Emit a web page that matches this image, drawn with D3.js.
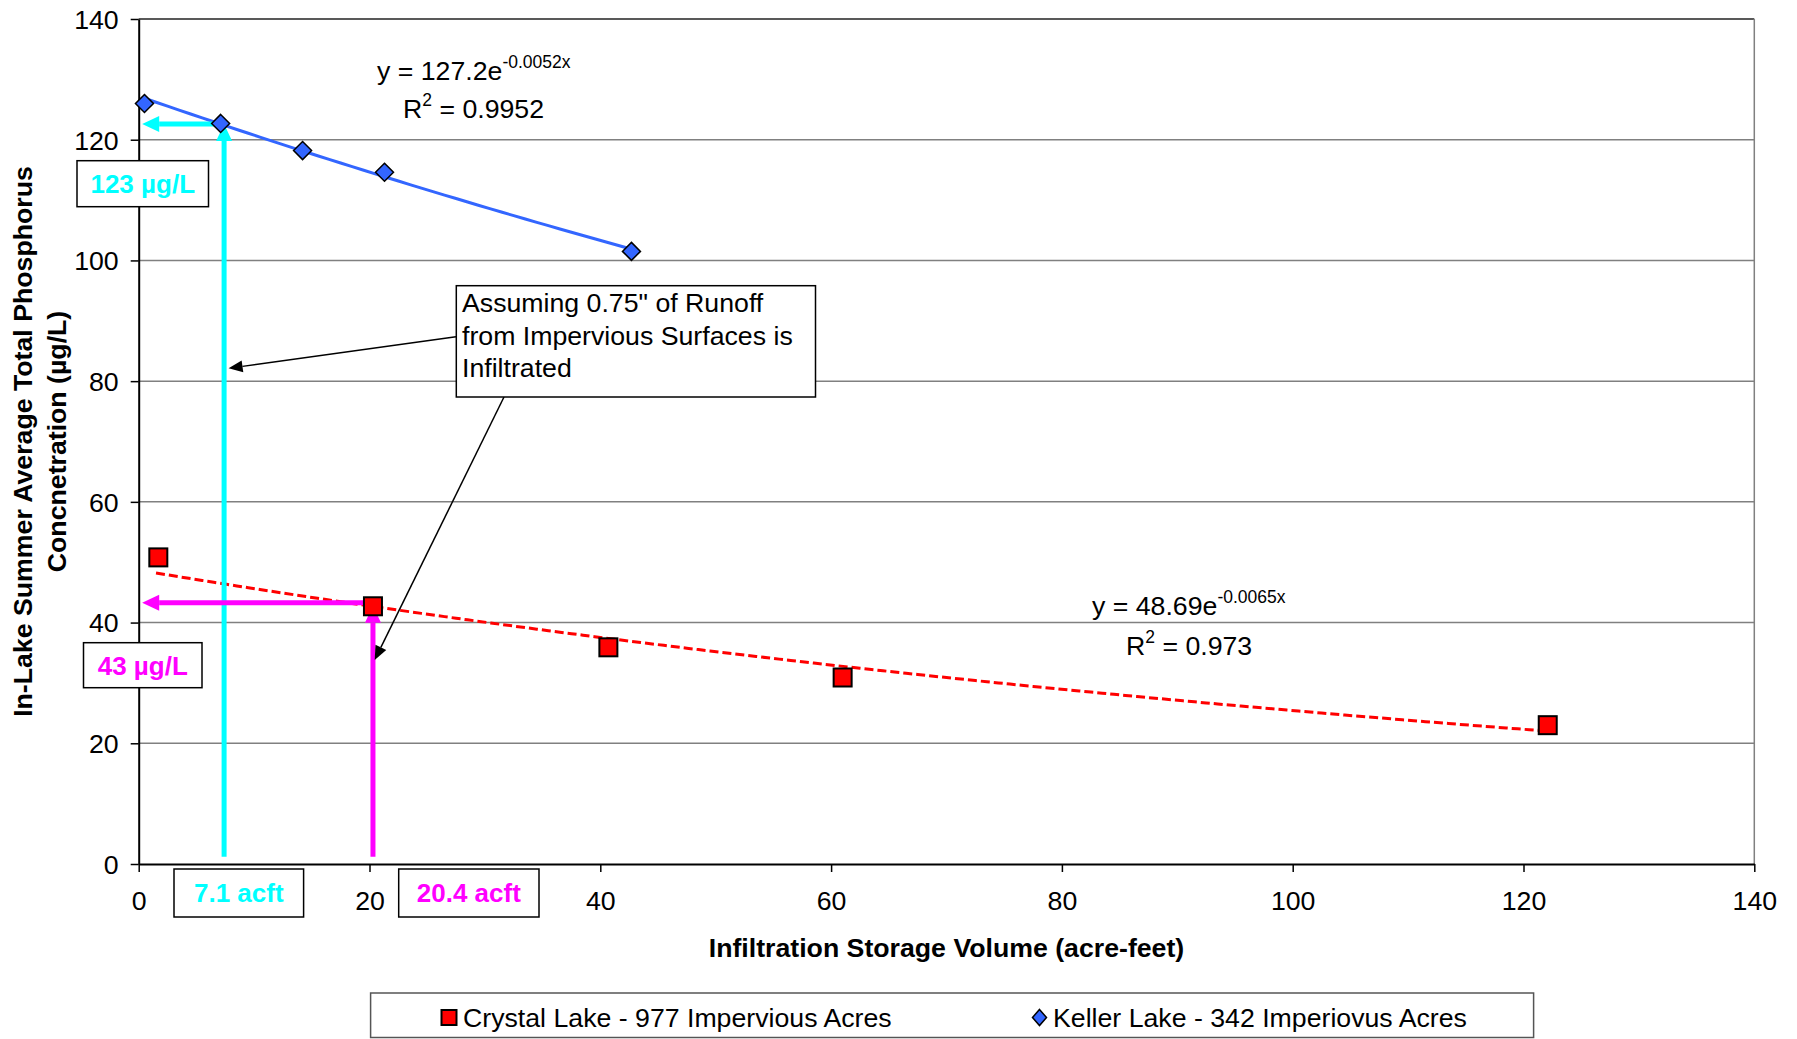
<!DOCTYPE html>
<html><head><meta charset="utf-8">
<script src="https://cdn.jsdelivr.net/npm/d3@7"></script>
<style>
body{margin:0;background:#fff;}
svg{display:block;font-family:"Liberation Sans",Arial,sans-serif;}
</style></head>
<body><svg id="c" width="1797" height="1039"></svg>
<script>
// ---- data ----
const xTicks = [0, 20, 40, 60, 80, 100, 120, 140];
const yTicks = [0, 20, 40, 60, 80, 100, 120, 140];
const crystalX = [1.7, 20.3, 40.7, 61.0, 122.1];
const crystalY = [50.8, 42.7, 35.9, 30.9, 23.0];
const kellerX = [0.5, 7.1, 14.2, 21.3, 42.7];
const kellerY = [126.0, 122.7, 118.2, 114.6, 101.5];
const crystalFit = [48.69, -0.0065];
const kellerFit = [127.2, -0.0052];
const seriesNames = ["Crystal Lake - 977 Impervious Acres", "Keller Lake - 342 Imperiovus Acres"];
const kellerLabel = "123 µg/L", kellerVol = "7.1 acft";
const crystalLabel = "43 µg/L", crystalVol = "20.4 acft";

const svg = d3.select("#c");
const L = 138.7, R = 1754.3, T = 19, B = 864;
const x = d3.scaleLinear().domain([0, 140]).range([L, R]);
const y = d3.scaleLinear().domain([0, 140]).range([B, T]);
const FONT = 26.7;

// gridlines
svg.append("g").selectAll("line").data(yTicks.filter(d => d > 0)).join("line")
  .attr("x1", L).attr("x2", R).attr("y1", d => y(d)).attr("y2", d => y(d))
  .attr("stroke", d => d === 140 ? "#222" : "#808080").attr("stroke-width", 1.5);
// right border
svg.append("line").attr("x1", R).attr("x2", R).attr("y1", T).attr("y2", B)
  .attr("stroke", "#808080").attr("stroke-width", 1.5);

// axes
const yAxis = svg.append("g").attr("transform", `translate(${L},0)`)
  .call(d3.axisLeft(y).tickValues(yTicks).tickSize(8).tickPadding(12).tickSizeOuter(0));
const xAxis = svg.append("g").attr("transform", `translate(0,${B})`)
  .call(d3.axisBottom(x).tickValues(xTicks).tickSize(8).tickPadding(19).tickSizeOuter(0));
[yAxis, xAxis].forEach(g => {
  g.select(".domain").attr("stroke", "#000").attr("stroke-width", 2);
  g.selectAll(".tick line").attr("stroke", "#000").attr("stroke-width", 1.5);
  g.selectAll(".tick text").attr("font-size", FONT).attr("fill", "#000")
    .attr("font-family", "'Liberation Sans',Arial,sans-serif");
});
yAxis.selectAll(".tick text").attr("dy", "0.35em");

// axis titles
svg.append("text").attr("x", (L + R) / 2).attr("y", 957).attr("text-anchor", "middle")
  .attr("font-size", FONT).attr("font-weight", "bold").text("Infiltration Storage Volume (acre-feet)");
const yt = svg.append("text").attr("transform", `translate(32,${(T + B) / 2}) rotate(-90)`)
  .attr("text-anchor", "middle").attr("font-size", FONT).attr("font-weight", "bold");
yt.append("tspan").attr("x", 0).attr("y", 0).text("In-Lake Summer Average Total Phosphorus");
yt.append("tspan").attr("x", 0).attr("y", 34).text("Concnetration (µg/L)");

// trendlines
function trend(fit, x0, x1) {
  return d3.range(x0, x1, 1).concat([x1]).map(v => [v, fit[0] * Math.exp(fit[1] * v)]);
}
const line = d3.line().x(d => x(d[0])).y(d => y(d[1]));
svg.append("path").attr("d", line(trend(kellerFit, kellerX[0], kellerX[kellerX.length - 1])))
  .attr("fill", "none").attr("stroke", "#3366FF").attr("stroke-width", 3);
svg.append("path").attr("d", line(trend(crystalFit, crystalX[0] - 0.2, crystalX[crystalX.length - 1] - 0.8)))
  .attr("fill", "none").attr("stroke", "#FF0000").attr("stroke-width", 3).attr("stroke-dasharray", "9,4");

// arrows helper
function arrow(x1, y1, x2, y2, color, w, hl, hw) {
  const a = Math.atan2(y2 - y1, x2 - x1);
  const bx = x2 - hl * Math.cos(a), by = y2 - hl * Math.sin(a);
  svg.append("line").attr("x1", x1).attr("y1", y1).attr("x2", bx).attr("y2", by)
    .attr("stroke", color).attr("stroke-width", w);
  const px = -Math.sin(a) * hw, py = Math.cos(a) * hw;
  svg.append("polygon").attr("points", `${x2},${y2} ${bx + px},${by + py} ${bx - px},${by - py}`)
    .attr("fill", color);
}

// cyan / magenta guide arrows
arrow(x(7.4), y(1.2), x(7.4), y(122.6), "#00FFFF", 5, 17, 8);
arrow(x(7.4), y(122.6), x(0.3), y(122.6), "#00FFFF", 5, 17, 8);
arrow(x(20.3), y(1.2), x(20.3), y(42.8), "#FF00FF", 5, 17, 8);
arrow(x(20.3), y(43.3), x(0.3), y(43.3), "#FF00FF", 5, 17, 8);

// markers
svg.append("g").selectAll("path").data(kellerX.map((v, i) => [v, kellerY[i]])).join("path")
  .attr("transform", d => `translate(${x(d[0])},${y(d[1])})`)
  .attr("d", "M0,-9 L9,0 L0,9 L-9,0 Z")
  .attr("fill", "#3366FF").attr("stroke", "#000").attr("stroke-width", 1.5);
svg.append("g").selectAll("rect").data(crystalX.map((v, i) => [v, crystalY[i]])).join("rect")
  .attr("x", d => x(d[0]) - 9).attr("y", d => y(d[1]) - 9).attr("width", 18).attr("height", 18)
  .attr("fill", "#FF0000").attr("stroke", "#000").attr("stroke-width", 2);

// value boxes
function vbox(x0, y0, x1, y1, txt, color, base) {
  svg.append("rect").attr("x", x0).attr("y", y0).attr("width", x1 - x0).attr("height", y1 - y0)
    .attr("fill", "#fff").attr("stroke", "#000").attr("stroke-width", 1.5);
  svg.append("text").attr("x", (x0 + x1) / 2).attr("y", base).attr("text-anchor", "middle")
    .attr("font-size", 26).attr("font-weight", "bold").attr("fill", color).text(txt);
}
vbox(77, 160.7, 208.5, 206.7, kellerLabel, "#00FFFF", 193);
vbox(83.5, 642.7, 202, 687.7, crystalLabel, "#FF00FF", 674.5);
vbox(174, 869, 303.6, 917, kellerVol, "#00FFFF", 902);
vbox(398.7, 869, 539, 917, crystalVol, "#FF00FF", 902);

// callout box + arrows
arrow(456, 336.7, 228.6, 368.3, "#000", 1.5, 14, 6);
arrow(504, 397, 374.7, 660, "#000", 1.5, 14, 6);
svg.append("rect").attr("x", 456.3).attr("y", 285.7).attr("width", 359.2).attr("height", 111.3)
  .attr("fill", "#fff").attr("stroke", "#000").attr("stroke-width", 1.5);
const ct = svg.append("text").attr("font-size", FONT);
["Assuming 0.75\" of Runoff", "from Impervious Surfaces is", "Infiltrated"].forEach((t, i) =>
  ct.append("tspan").attr("x", 462).attr("y", 312 + i * 32.5).text(t));

// equations
function eq(xp, yp, main, sup, xr, yr, r2) {
  const t = svg.append("text").attr("x", xp).attr("y", yp).attr("font-size", FONT);
  t.append("tspan").text(main);
  t.append("tspan").attr("font-size", 17.5).attr("dy", -12).text(sup);
  const r = svg.append("text").attr("x", xr).attr("y", yr).attr("font-size", FONT);
  r.append("tspan").text("R");
  r.append("tspan").attr("font-size", 17.5).attr("dy", -12).text("2");
  r.append("tspan").attr("dy", 12).text(" = " + r2);
}
eq(377, 79.5, "y = 127.2e", "-0.0052x", 403, 117.5, "0.9952");
eq(1092, 614.5, "y = 48.69e", "-0.0065x", 1126, 654.5, "0.973");

// legend
svg.append("rect").attr("x", 370.6).attr("y", 993).attr("width", 1163).attr("height", 44.5)
  .attr("fill", "#fff").attr("stroke", "#555").attr("stroke-width", 1.5);
svg.append("rect").attr("x", 449 - 7.5).attr("y", 1017.5 - 7.5).attr("width", 15).attr("height", 15)
  .attr("fill", "#FF0000").attr("stroke", "#000").attr("stroke-width", 2);
svg.append("text").attr("x", 463).attr("y", 1027).attr("font-size", FONT).text(seriesNames[0]);
svg.append("path").attr("transform", "translate(1039.5,1017.5)").attr("d", "M0,-8 L7,0 L0,8 L-7,0 Z")
  .attr("fill", "#3366FF").attr("stroke", "#000").attr("stroke-width", 1.5);
svg.append("text").attr("x", 1053).attr("y", 1027).attr("font-size", FONT).text(seriesNames[1]);
</script></body></html>
